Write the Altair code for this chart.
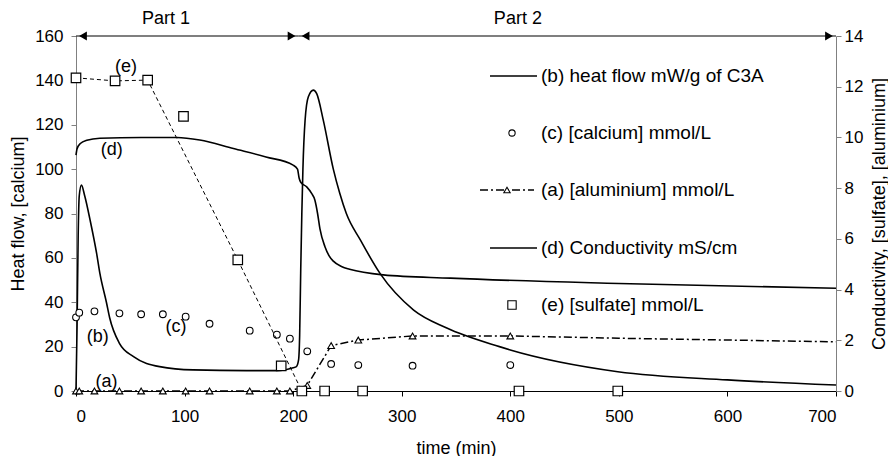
import altair as alt
import pandas as pd

FONT = "Liberation Sans"
FS_TICK = 17
FS_TEXT = 18
FS_LEG = 19

# (b) heat flow, mW/g of C3A (left axis)
heat_time = [0, 1, 2, 3, 5, 8, 13, 19, 22, 28, 31, 40, 53, 77, 108, 157, 185, 200, 203,
             205, 206, 207, 208, 209, 211, 214, 218.6, 221.7, 227.8, 237, 243, 249, 262,
             280, 311, 341, 390, 400, 499, 600, 700]
heat_flow = [0, 30, 70, 88, 92.8, 88, 77, 62, 53, 40, 33, 21.5, 15.5, 11, 9.5, 9.2, 9.2, 10.5, 11,
             14, 25, 55, 80, 100, 122, 132.6, 135.6, 134, 122, 100, 89, 80, 68,
             53, 36.5, 28.5, 20, 18.5, 8.7, 5.0, 2.7]

# (d) conductivity, mS/cm (right axis)
cond_time = [0, 1, 4, 10, 22, 60, 93, 114, 145, 175, 200, 204, 205.5, 207, 212.5, 217, 220,
             222.5, 224.7, 229.3, 233, 237, 245, 252, 283, 345, 500, 700]
conductivity = [9.30, 9.55, 9.76, 9.89, 9.97, 10.0, 10.0, 9.90, 9.56, 9.23, 8.91, 8.75, 8.40,
                8.23, 8.05, 7.79, 7.53, 7.0, 6.39, 5.69, 5.34, 5.12, 4.90, 4.80, 4.58, 4.45,
                4.24, 4.05]

# (c) calcium, mmol/L (left axis)
ca_time = [0, 3, 17, 40, 60, 80, 101, 123, 160, 185, 197, 213, 235, 260, 310, 400]
calcium = [33.2, 35.3, 35.9, 35.0, 34.6, 34.6, 33.5, 30.3, 27.2, 25.4, 23.6, 17.9, 12.2,
           11.7, 11.4, 11.7]

# (a) aluminium, mmol/L (right axis)
al_time = [0, 3, 17, 40, 60, 80, 101, 123, 160, 185, 197, 213, 235, 260, 310, 400]
aluminium = [0, 0, 0, 0, 0, 0, 0, 0, 0, 0, 0, 0.22, 1.79, 2.01, 2.17, 2.17]
al_line_time = [0, 3, 17, 40, 60, 80, 101, 123, 160, 185, 197, 213, 235, 260, 310, 400,
                500, 600, 700]
al_line = [0, 0, 0, 0, 0, 0, 0, 0, 0, 0, 0, 0.22, 1.79, 2.01, 2.17, 2.17, 2.08, 2.01, 1.94]

# (e) sulfate, mmol/L (right axis)
so4_time = [0, 36, 66, 99, 149, 189, 208, 229, 264, 408, 499]
sulfate = [12.35, 12.23, 12.26, 10.83, 5.17, 0.99, 0, 0, 0, 0, 0]
so4_line_time = [0, 36, 66, 149, 208]
so4_line = [12.35, 12.23, 12.26, 5.17, 0]

# curve labels (left-axis units)
ann_text = ["(e)", "(d)", "(c)", "(b)", "(a)"]
ann_time = [46, 33, 92, 20, 28]
ann_value = [146, 108.6, 28.7, 24.5, 4.2]

# parts
part_names = ["Part 1", "Part 2"]
part_start = [0, 205]
part_end = [205, 700]
part_label_time = [83, 407]

legend_labels = ["(b) heat flow mW/g of C3A", "(c) [calcium] mmol/L",
                 "(a) [aluminium] mmol/L", "(d) Conductivity mS/cm",
                 "(e) [sulfate] mmol/L"]

W, H = 760, 355
xs = alt.Scale(domain=[0, 700], nice=False, zero=False)
yl = alt.Scale(domain=[0, 160], nice=False)
yr = alt.Scale(domain=[0, 14], nice=False)

common = dict(grid=False, labelFontSize=FS_TICK, titleFontSize=FS_TEXT, labelFont=FONT,
              titleFont=FONT, titleFontWeight="normal", labelColor="black", titleColor="black")
x_axis = alt.Axis(title="time (min)", values=list(range(0, 701, 100)),
                  domainColor="black", tickColor="black", tickSize=5, labelPadding=12,
                  titlePadding=15, **common)
yl_axis = alt.Axis(title="Heat flow, [calcium]", values=list(range(0, 161, 20)),
                   domainColor="#808080", tickColor="#808080", tickSize=5, labelPadding=8,
                   titlePadding=7, **common)
yr_axis = alt.Axis(title="Conductivity, [sulfate], [aluminium]", orient="right",
                   values=list(range(0, 15, 2)), domainColor="#808080",
                   tickColor="#808080", tickSize=5, labelPadding=3, titlePadding=26,
                   titleAngle=270, **common)

heat_df = pd.DataFrame({"t": heat_time, "v": heat_flow})
cond_df = pd.DataFrame({"t": cond_time, "v": conductivity})
ca_df = pd.DataFrame({"t": ca_time, "v": calcium})
al_df = pd.DataFrame({"t": al_time, "v": aluminium})
al_line_df = pd.DataFrame({"t": al_line_time, "v": al_line})
so4_df = pd.DataFrame({"t": so4_time, "v": sulfate})
so4_line_df = pd.DataFrame({"t": so4_line_time, "v": so4_line})
ann_df = pd.DataFrame({"t": ann_time, "v": ann_value, "label": ann_text})
part_df = pd.DataFrame({"name": part_names, "s": part_start, "e": part_end,
                        "lt": part_label_time, "top": [160, 160]})


def X(f):
    return alt.X(f, scale=xs, axis=x_axis)


def YL(f):
    return alt.Y(f, scale=yl, axis=yl_axis)


def YR(f):
    return alt.Y(f, scale=yr, axis=yr_axis)


heat = alt.Chart(heat_df).mark_line(color="black", strokeWidth=1.6, interpolate="monotone").encode(
    x=X("t:Q"), y=YL("v:Q"))
ca = alt.Chart(ca_df).mark_point(shape="circle", size=45, filled=False, fill="white",
                                 fillOpacity=1, stroke="black", strokeWidth=1.1, opacity=1).encode(
    x=X("t:Q"), y=YL("v:Q"))
ann = alt.Chart(ann_df).mark_text(font=FONT, fontSize=FS_TEXT, color="black").encode(
    x=X("t:Q"), y=YL("v:Q"), text="label:N")
part_rule = alt.Chart(part_df).mark_rule(color="black", strokeWidth=1.2).encode(
    x=X("s:Q"), x2="e:Q", y=YL("top:Q"))
part_left = alt.Chart(part_df).mark_point(shape="triangle-left", filled=True, color="black",
                                          size=80, xOffset=7, opacity=1).encode(
    x=X("s:Q"), y=YL("top:Q"))
part_right = alt.Chart(part_df).mark_point(shape="triangle-right", filled=True, color="black",
                                           size=80, xOffset=-7, opacity=1).encode(
    x=X("e:Q"), y=YL("top:Q"))
part_text = alt.Chart(part_df).mark_text(font=FONT, fontSize=FS_TEXT, color="black",
                                         baseline="middle").encode(
    x=X("lt:Q"), y=alt.value(-17), text="name:N")

# legend (drawn inside plot area)
leg_layers = []
row_y = [40, 97, 154, 212, 269]
for i, lab in enumerate(legend_labels):
    d = pd.DataFrame({"label": [lab]})
    leg_layers.append(alt.Chart(d).mark_text(font=FONT, fontSize=FS_LEG, color="black",
                                             align="left", baseline="middle").encode(
        x=alt.value(465), y=alt.value(row_y[i]), text="label:N"))
one = pd.DataFrame({"k": [0]})
leg_layers.append(alt.Chart(one).mark_rule(color="black", strokeWidth=1.4).encode(
    x=alt.value(414), x2=alt.value(461), y=alt.value(row_y[0])))
leg_layers.append(alt.Chart(one).mark_rule(color="black", strokeWidth=1.4).encode(
    x=alt.value(414), x2=alt.value(461), y=alt.value(row_y[3])))
leg_layers.append(alt.Chart(one).mark_rule(color="black", strokeWidth=1.4,
                                           strokeDash=[8, 3, 2, 3]).encode(
    x=alt.value(404), x2=alt.value(458), y=alt.value(row_y[2])))
leg_layers.append(alt.Chart(one).mark_point(shape="circle", size=40, filled=False, fill="white",
                                            fillOpacity=1, stroke="black", strokeWidth=1.1).encode(
    x=alt.value(436), y=alt.value(row_y[1])))
leg_layers.append(alt.Chart(one).mark_point(shape="triangle-up", size=40, filled=False, fill="white",
                                            fillOpacity=1, stroke="black", strokeWidth=1.1).encode(
    x=alt.value(431), y=alt.value(row_y[2])))
leg_layers.append(alt.Chart(one).mark_point(shape="square", size=70, filled=False, fill="white",
                                            fillOpacity=1, stroke="black", strokeWidth=1.1).encode(
    x=alt.value(436), y=alt.value(row_y[4])))

left = alt.layer(heat, ca, ann, part_rule, part_left, part_right, part_text, *leg_layers)

cond = alt.Chart(cond_df).mark_line(color="black", strokeWidth=1.6, interpolate="monotone").encode(
    x=X("t:Q"), y=YR("v:Q"))
al_l = alt.Chart(al_line_df).mark_line(color="black", strokeWidth=1.5,
                                       strokeDash=[8, 3, 2, 3]).encode(
    x=X("t:Q"), y=YR("v:Q"))
al_p = alt.Chart(al_df).mark_point(shape="triangle-up", size=45, filled=False, fill="white",
                                   fillOpacity=1, stroke="black", strokeWidth=1.1, opacity=1).encode(
    x=X("t:Q"), y=YR("v:Q"))
so4_l = alt.Chart(so4_line_df).mark_line(color="black", strokeWidth=1,
                                         strokeDash=[4, 3]).encode(
    x=X("t:Q"), y=YR("v:Q"))
so4_p = alt.Chart(so4_df).mark_point(shape="square", size=90, filled=False, fill="white",
                                     fillOpacity=1, stroke="black", strokeWidth=1.2, opacity=1).encode(
    x=X("t:Q"), y=YR("v:Q"))
right = alt.layer(cond, al_l, so4_l, al_p, so4_p)

chart = alt.layer(left, right).resolve_scale(y="independent").properties(
    width=W, height=H,
    padding={"left": 68, "top": 28, "right": 52, "bottom": 65},
    autosize=alt.AutoSizeParams(type="none"),
    background="white",
).configure_view(stroke=None)

chart.save("out.html", embed_options={"renderer": "svg", "actions": False})
